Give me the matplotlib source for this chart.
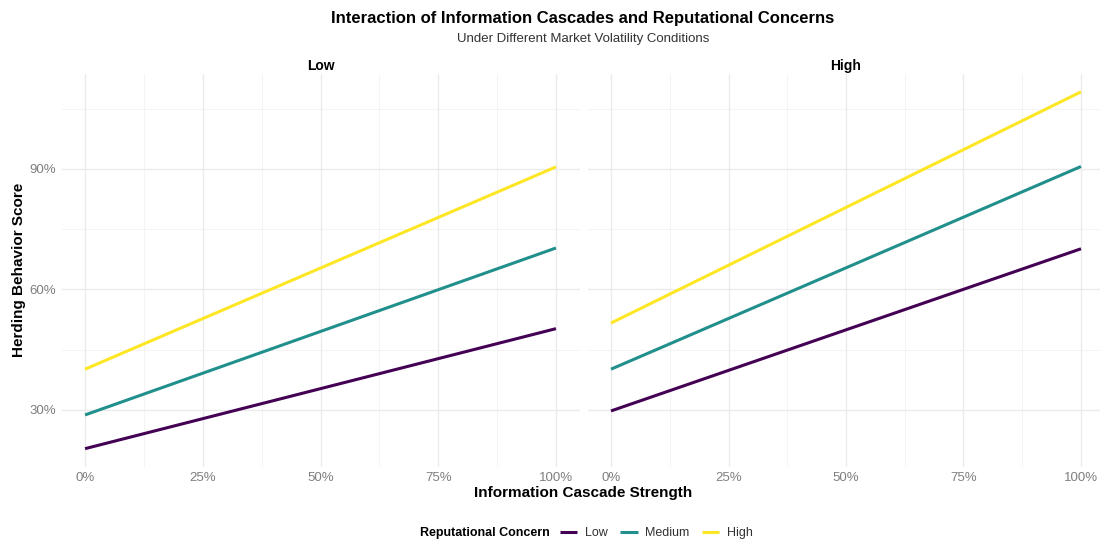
import matplotlib
matplotlib.use("Agg")
import matplotlib.pyplot as plt
from matplotlib.ticker import FuncFormatter, FixedLocator

plt.rcParams['font.family'] = ['Liberation Sans', 'DejaVu Sans']

# values
cascade = [0.0, 1.0]
volatility = ["Low", "High"]
concern_levels = ["Low", "Medium", "High"]
colors = ["#440154", "#21908C", "#FDE725"]

herding_low_vol = {
    "Low": [0.203, 0.502],
    "Medium": [0.287, 0.703],
    "High": [0.401, 0.905],
}
herding_high_vol = {
    "Low": [0.297, 0.701],
    "Medium": [0.401, 0.906],
    "High": [0.516, 1.092],
}
panels = [herding_low_vol, herding_high_vol]

y_ticks = [0.3, 0.6, 0.9]
y_minor = [0.15, 0.45, 0.75, 1.05]
x_ticks = [0.0, 0.25, 0.5, 0.75, 1.0]
x_minor = [0.125, 0.375, 0.625, 0.875]

W, H = 1100, 543
fig = plt.figure(figsize=(W / 100, H / 100), dpi=100)


def px_axes(left, top, right, bottom):
    return fig.add_axes([left / W, 1 - bottom / H, (right - left) / W, (bottom - top) / H])


ax_left = px_axes(61.5, 74, 579.5, 466.5)
ax_right = px_axes(587.5, 74, 1104.5, 466.5)
axes = [ax_left, ax_right]

all_y = [v for p in panels for vals in p.values() for v in vals]
y_lo, y_hi = min(all_y), max(all_y)
y_pad = (y_hi - y_lo) * 0.05

pct = FuncFormatter(lambda v, _: f"{v * 100:.0f}%")

for i, (ax, data, vol) in enumerate(zip(axes, panels, volatility)):
    for level, c in zip(concern_levels, colors):
        ax.plot(cascade, data[level], color=c, lw=2.2, solid_capstyle='butt', label=level, zorder=3)
    ax.set_xlim(-0.05, 1.05)
    ax.set_ylim(y_lo - y_pad, y_hi + y_pad)
    ax.xaxis.set_major_locator(FixedLocator(x_ticks))
    ax.xaxis.set_minor_locator(FixedLocator(x_minor))
    ax.yaxis.set_major_locator(FixedLocator(y_ticks))
    ax.yaxis.set_minor_locator(FixedLocator(y_minor))
    ax.xaxis.set_major_formatter(pct)
    ax.yaxis.set_major_formatter(pct)
    ax.grid(which='major', color='#ebebeb', lw=1.0, zorder=0)
    ax.grid(which='minor', color='#f2f2f2', lw=0.6, zorder=0)
    ax.tick_params(which='both', length=0, labelsize=9.5, labelcolor='#7f7f7f', pad=4)
    for s in ax.spines.values():
        s.set_visible(False)
    ax.set_title(vol, fontsize=10, fontweight='bold', pad=3)
    if i == 1:
        ax.tick_params(axis='y', labelleft=False)

fig.text(583 / W, 1 - 18 / H, "Interaction of Information Cascades and Reputational Concerns",
         ha='center', va='center', fontsize=12, fontweight='bold')
fig.text(583 / W, 1 - 39 / H, "Under Different Market Volatility Conditions",
         ha='center', va='center', fontsize=9.5, color='#333333')
fig.text(583 / W, 1 - 493 / H, "Information Cascade Strength",
         ha='center', va='center', fontsize=11, fontweight='bold')
fig.text(19 / W, 1 - 270 / H, "Herding Behavior Score",
         ha='center', va='center', fontsize=11, fontweight='bold', rotation=90)

fig.text(420 / W, 1 - 533 / H, "Reputational Concern", ha='left', va='center',
         fontsize=9, fontweight='bold')
handles, labels = ax_left.get_legend_handles_labels()
fig.legend(handles, labels, ncol=3, frameon=False, loc='center left',
           bbox_to_anchor=(560 / W, 1 - 533 / H), fontsize=9, handlelength=1.4,
           handletextpad=0.6, columnspacing=1.0, borderaxespad=0, borderpad=0,
           labelcolor='#333333')

fig.savefig("out.png", dpi=100)
